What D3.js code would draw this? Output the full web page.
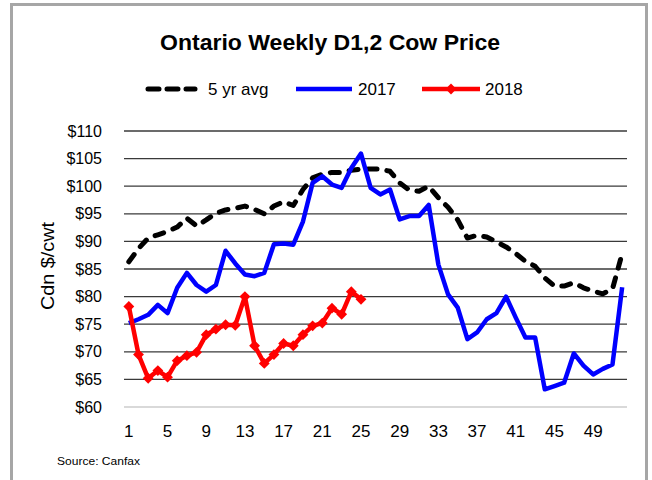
<!DOCTYPE html>
<html>
<head>
<meta charset="utf-8">
<script src="https://cdn.jsdelivr.net/npm/d3@7"></script>
<style>
  html, body { margin: 0; padding: 0; background: #fff; }
  svg { display: block; font-family: "Liberation Sans", Arial, sans-serif; }
</style>
</head>
<body>
<svg id="chart" width="652" height="480"></svg>
<script>
const title = "Ontario Weekly D1,2 Cow Price";
const weeks = d3.range(1, 53);
const tickWeeks = [1, 5, 9, 13, 17, 21, 25, 29, 33, 37, 41, 45, 49];
const yTicks = [60, 65, 70, 75, 80, 85, 90, 95, 100, 105, 110];

const avg5yr = [86.3, 88.7, 90.6, 91.2, 91.8, 92.6, 94.2, 92.8, 93.9, 95.1,
                95.7, 96.0, 96.4, 95.8, 95.0, 96.4, 97.2, 96.5, 99.4, 101.5,
                102.2, 102.5, 102.5, 102.9, 103.1, 103.1, 103.1, 102.7, 100.6, 99.3,
                99.1, 100.0, 97.9, 96.2, 93.9, 90.6, 91.1, 90.8, 89.9, 89.0,
                87.8, 86.4, 85.5, 83.4, 81.9, 81.9, 82.5, 81.6, 81.0, 80.5,
                81.4, 87.8];
const y2017 = [75.2, 75.9, 76.7, 78.5, 77.0, 81.6, 84.3, 82.1, 80.9, 82.1,
               88.3, 86.0, 84.0, 83.7, 84.3, 89.5, 89.6, 89.4, 93.6, 100.6,
               101.8, 100.3, 99.7, 103.3, 105.9, 99.7, 98.5, 99.4, 94.0, 94.6,
               94.6, 96.6, 85.8, 80.4, 78.0, 72.3, 73.5, 75.9, 77.0, 80.0,
               76.2, 72.6, 72.6, 63.2, 63.8, 64.4, 69.7, 67.5, 65.9, 66.9,
               67.7, 81.7];
const y2018 = [78.2, 69.5, 65.2, 66.6, 65.4, 68.4, 69.3, 69.9, 73.1, 74.1,
               74.9, 74.8, 80.0, 71.1, 67.9, 69.5, 71.5, 71.1, 73.1, 74.7,
               75.2, 77.9, 76.8, 80.9, 79.5];

const svg = d3.select("#chart");

// outer frame
svg.append("rect").attr("x", 11.5).attr("y", 4.5).attr("width", 635).attr("height", 490)
  .attr("fill", "#fff").attr("stroke", "#a6a6a6").attr("stroke-width", 3);

const x = d3.scaleBand().domain(weeks).range([124, 627]).padding(0);
const cx = d => x(d) + x.bandwidth() / 2;
const y = d3.scaleLinear().domain([60, 110]).range([407, 131]);

// gridlines
svg.append("g").selectAll("line").data(yTicks).join("line")
  .attr("x1", 124).attr("x2", 627)
  .attr("y1", d => y(d)).attr("y2", d => y(d))
  .attr("stroke", d => d === 60 ? "#d9d9d9" : "#3a3a3a")
  .attr("stroke-width", d => d === 60 ? 2 : 1.3);

// y axis
const yAxis = svg.append("g").attr("transform", "translate(102,0)")
  .call(d3.axisLeft(y).tickValues(yTicks).tickFormat(d => "$" + d).tickSize(0).tickPadding(0));
yAxis.select(".domain").remove();
yAxis.selectAll("text").attr("font-size", 16).attr("fill", "#000")
  .attr("font-family", "Liberation Sans, Arial, sans-serif");

// x axis
const xAxis = svg.append("g").attr("transform", "translate(0,425)")
  .call(d3.axisBottom(x).tickValues(tickWeeks).tickSize(0).tickPadding(0));
xAxis.select(".domain").remove();
xAxis.selectAll("text").attr("font-size", 17).attr("fill", "#000")
  .attr("font-family", "Liberation Sans, Arial, sans-serif");

// y label
svg.append("text").attr("transform", "translate(54,266) rotate(-90)")
  .attr("text-anchor", "middle").attr("font-size", 19).attr("fill", "#000")
  .attr("textLength", 88).attr("lengthAdjust", "spacingAndGlyphs")
  .text("Cdn $/cwt");

// lines
const line = d3.line().x((d, i) => cx(weeks[i])).y(d => y(d));

svg.append("path").datum(avg5yr).attr("d", line)
  .attr("fill", "none").attr("stroke", "#000").attr("stroke-width", 5)
  .attr("stroke-dasharray", "9,10").attr("stroke-linecap", "round").attr("stroke-linejoin", "round");

svg.append("path").datum(y2017).attr("d", line)
  .attr("fill", "none").attr("stroke", "#0000ff").attr("stroke-width", 4.5)
  .attr("stroke-linejoin", "round");

svg.append("path").datum(y2018).attr("d", line)
  .attr("fill", "none").attr("stroke", "#ff0000").attr("stroke-width", 4.5)
  .attr("stroke-linejoin", "round");

const diamond = d3.symbol().type(d3.symbolDiamond2).size(75);
svg.append("g").selectAll("path").data(y2018).join("path")
  .attr("d", diamond)
  .attr("transform", (d, i) => `translate(${cx(weeks[i])},${y(d)})`)
  .attr("fill", "#ff0000");

// title
svg.append("text").attr("x", 330).attr("y", 50).attr("text-anchor", "middle")
  .attr("font-size", 22).attr("font-weight", "bold").attr("fill", "#000")
  .attr("textLength", 340).attr("lengthAdjust", "spacingAndGlyphs")
  .text(title);

// legend
const lg = svg.append("g");
lg.append("line").attr("x1", 148).attr("x2", 195).attr("y1", 89).attr("y2", 89)
  .attr("stroke", "#000").attr("stroke-width", 5).attr("stroke-dasharray", "11,8")
  .attr("stroke-linecap", "round");
lg.append("text").attr("x", 208).attr("y", 95).attr("font-size", 17).text("5 yr avg");
lg.append("line").attr("x1", 296).attr("x2", 352).attr("y1", 89).attr("y2", 89)
  .attr("stroke", "#0000ff").attr("stroke-width", 4.5);
lg.append("text").attr("x", 358).attr("y", 95).attr("font-size", 17).text("2017");
lg.append("line").attr("x1", 422).attr("x2", 480).attr("y1", 89).attr("y2", 89)
  .attr("stroke", "#ff0000").attr("stroke-width", 4.5);
lg.append("path").attr("d", diamond).attr("transform", "translate(451,89)").attr("fill", "#ff0000");
lg.append("text").attr("x", 485).attr("y", 95).attr("font-size", 17).text("2018");

// source
svg.append("text").attr("x", 57).attr("y", 465).attr("font-size", 11.5).attr("fill", "#000")
  .attr("textLength", 83).attr("lengthAdjust", "spacingAndGlyphs")
  .text("Source:  Canfax");
</script>
</body>
</html>
